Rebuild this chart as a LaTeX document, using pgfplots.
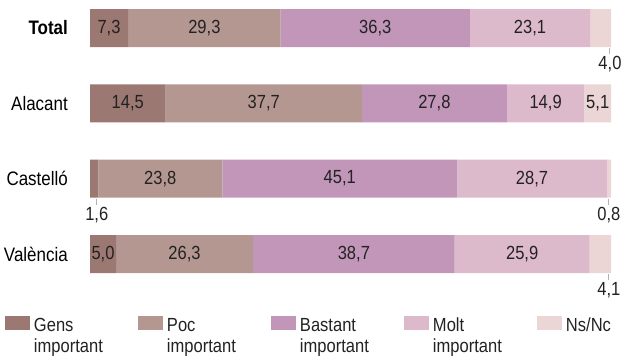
\documentclass[border=0pt]{standalone}
\usepackage{fontspec}
\setmainfont{Liberation Sans}[FakeStretch=0.87]
\usepackage{pgfplots}
\pgfplotsset{compat=1.18}
\usepackage{pgfplotstable}

\definecolor{cGens}{RGB}{156,120,114}
\definecolor{cPoc}{RGB}{181,151,146}
\definecolor{cBast}{RGB}{193,150,185}
\definecolor{cMolt}{RGB}{221,185,204}
\definecolor{cNs}{RGB}{235,213,213}
\definecolor{txt}{RGB}{34,34,34}

% y: 3=Total, 2=Alacant, 1=Castello, 0=Valencia
\pgfplotstableread{
y x lab
3 7.3 7,3
2 14.5 14,5
1 1.6 {}
0 5.0 5,0
}\gens
\pgfplotstableread{
y x lab
3 29.3 29,3
2 37.7 37,7
1 23.8 23,8
0 26.3 26,3
}\poc
\pgfplotstableread{
y x lab
3 36.3 36,3
2 27.8 27,8
1 45.1 45,1
0 38.7 38,7
}\bastant
\pgfplotstableread{
y x lab
3 23.1 23,1
2 14.9 14,9
1 28.7 28,7
0 25.9 25,9
}\molt
\pgfplotstableread{
y x lab
3 4.0 {}
2 5.1 5,1
1 0.8 {}
0 4.1 {}
}\nsnc

\begin{document}
\begin{tikzpicture}
\useasboundingbox (0,0) rectangle (621pt,356pt);
\begin{axis}[
  at={(90pt,56pt)}, anchor=south west,
  scale only axis, width=521pt, height=300pt,
  clip=false,
  xbar stacked, bar width=38pt,
  xmin=0, xmax=100, ymin=-0.6106, ymax=3.3717,
  axis line style={draw=none}, tick style={draw=none}, major tick length=0pt,
  xtick=\empty, ytick={0,1,2,3},
  yticklabels={València,Castelló,Alacant,\textbf{Total}},
  yticklabel style={anchor=east, inner sep=0pt, xshift=-22pt, font=\fontsize{19.5}{22}\selectfont, text=black},
  point meta=explicit symbolic,
  nodes near coords,
  every node near coord/.append style={font=\fontsize{19}{21}\selectfont, text=txt},
  legend columns=5,
  legend style={at={(-0.16315,-0.0517)}, anchor=north west, draw=none, fill=none,
    inner sep=0pt, outer sep=0pt, row sep=0pt, column sep=0pt,
    nodes={inner sep=0pt, text width=99pt, align=left, font=\fontsize{19}{21}\selectfont, text=txt},
    /tikz/every odd column/.append style={column sep=4pt},
    /tikz/every even column/.append style={column sep=5pt}},
  legend image code/.code={\fill (0pt,-4pt) rectangle (25pt,10pt);},
]
\addplot[fill=cGens, draw=none] table[x=x, y=y, meta=lab]{\gens};
\addplot[fill=cPoc, draw=none] table[x=x, y=y, meta=lab]{\poc};
\addplot[fill=cBast, draw=none] table[x=x, y=y, meta=lab]{\bastant};
\addplot[fill=cMolt, draw=none] table[x=x, y=y, meta=lab]{\molt};
\addplot[fill=cNs, draw=none] table[x=x, y=y, meta=lab]{\nsnc};
\legend{Gens\\important, Poc\\important, Bastant\\important, Molt\\important, Ns/Nc}
% outside labels for small segments
\draw[gray!60, line width=1pt] (axis cs:99.8,2.735) -- (axis cs:99.8,2.655);
\node[font=\fontsize{19}{21}\selectfont, text=txt] at (axis cs:99.8,2.52) {4,0};
\draw[gray!60, line width=1pt] (axis cs:1.3,0.735) -- (axis cs:1.3,0.655);
\node[font=\fontsize{19}{21}\selectfont, text=txt] at (axis cs:1.3,0.52) {1,6};
\draw[gray!60, line width=1pt] (axis cs:99.6,0.735) -- (axis cs:99.6,0.655);
\node[font=\fontsize{19}{21}\selectfont, text=txt] at (axis cs:99.6,0.52) {0,8};
\draw[gray!60, line width=1pt] (axis cs:99.6,-0.265) -- (axis cs:99.6,-0.345);
\node[font=\fontsize{19}{21}\selectfont, text=txt] at (axis cs:99.6,-0.48) {4,1};
\end{axis}
\end{tikzpicture}
\end{document}
